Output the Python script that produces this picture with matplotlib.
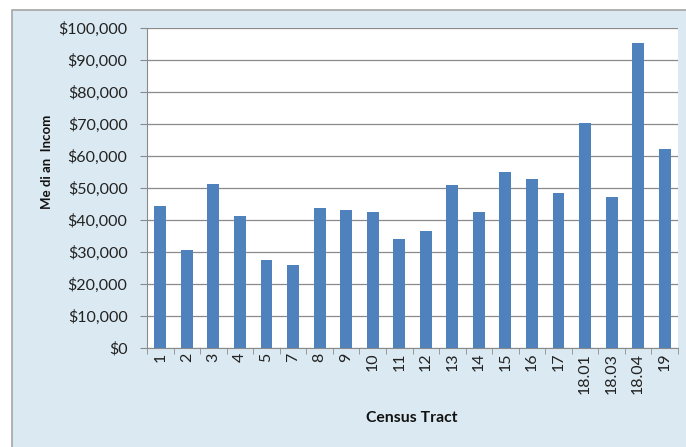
import matplotlib.pyplot as plt
from matplotlib.patches import Rectangle
from matplotlib.ticker import FuncFormatter, FixedLocator
import numpy as np

tracts = ['1', '2', '3', '4', '5', '7', '8', '9', '10', '11', '12', '13', '14',
          '15', '16', '17', '18.01', '18.03', '18.04', '19']
income = [44500, 30700, 51200, 41200, 27600, 26000, 43800, 43000, 42500, 34100,
          36500, 50800, 42400, 55000, 52900, 48500, 70400, 47200, 95200, 62300]

fig = plt.figure(figsize=(6.86, 4.47), dpi=100)
fig.patch.set_facecolor('white')

# outer chart area (light blue with grey border)
fig.patches.append(Rectangle((12 / 686, -0.05), 1.0, (437 / 447) + 0.05,
                             transform=fig.transFigure, facecolor='#dbeaf2',
                             edgecolor='#a6a6a6', linewidth=1.2, zorder=-10))

ax = fig.add_axes([147 / 686, 1 - 348 / 447, 531 / 686, 320 / 447])
ax.set_facecolor('white')

x = np.arange(len(tracts))
ax.bar(x, income, width=0.45, color='#4f81bd', zorder=3)

ax.set_xlim(-0.5, len(tracts) - 0.5)
ax.set_ylim(0, 100000)
ax.set_yticks(range(0, 100001, 10000))
ax.yaxis.set_major_formatter(FuncFormatter(lambda v, p: f'${v:,.0f}'))
ax.grid(axis='y', color='#8a8a8a', linewidth=0.9, zorder=1)

ax.set_xticks(x)
ax.set_xticklabels(tracts, rotation=90)
ax.xaxis.set_minor_locator(FixedLocator(np.arange(-0.5, len(tracts), 1)))
ax.tick_params(axis='x', which='major', length=0, pad=3.5)
ax.tick_params(axis='x', which='minor', length=4, color='#8a8a8a')
ax.tick_params(axis='y', length=5, color='#8a8a8a', pad=9)
ax.tick_params(labelsize=11.5, labelcolor='#222222')
for lab in ax.get_xticklabels() + ax.get_yticklabels():
    lab.set_fontfamily('Lato')

for s in ['top', 'right']:
    ax.spines[s].set_visible(False)
for s in ['left', 'bottom']:
    ax.spines[s].set_color('#8a8a8a')

fig.text(47 / 686, 1 - 162 / 447, 'Me di an  Incom', rotation=90, ha='center',
         va='center', fontsize=9.5, fontweight='bold', family='Lato', color='#111111')
fig.text(412 / 686, 1 - 418 / 447, 'Census Tract', ha='center', va='center',
         fontsize=11.3, fontweight='bold', family='Lato', color='#111111')

fig.savefig('out.png', dpi=100)
